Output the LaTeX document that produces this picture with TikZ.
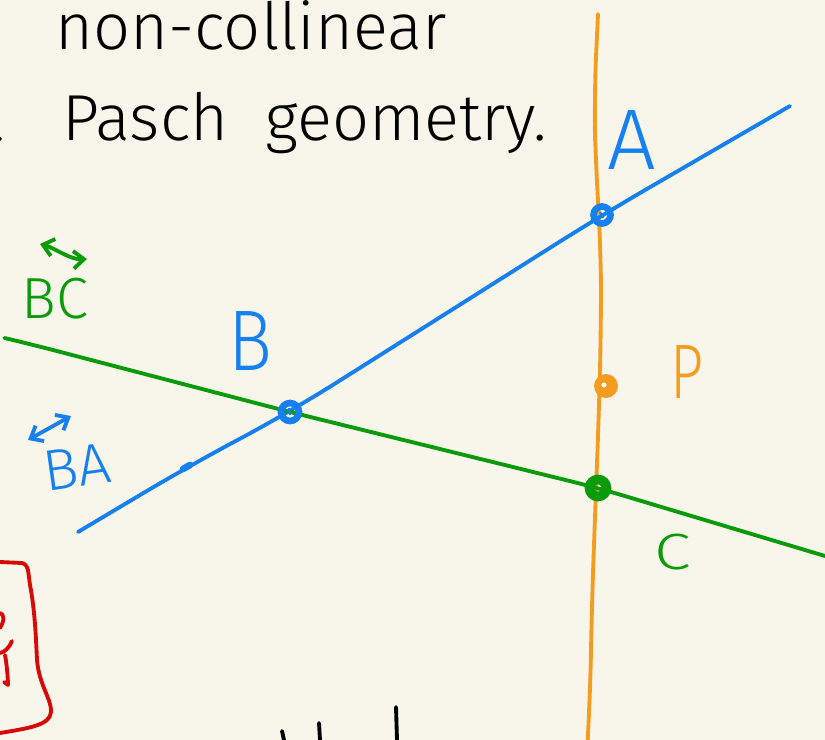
\documentclass[tikz,border=0pt]{standalone}
\usepackage{fontspec}
\setmainfont{Fira Sans Light}
\usetikzlibrary{arrows.meta,calc}
\definecolor{bg}{RGB}{248,246,234}
\definecolor{myblue}{RGB}{22,128,240}
\definecolor{mygreen}{RGB}{10,155,10}
\definecolor{myorange}{RGB}{244,156,32}
\definecolor{myred}{RGB}{215,10,10}
\tikzset{
  pen/.style={line width=2.2pt, line cap=round, line join=round},
  thickpen/.style={line width=3.8pt, line cap=round, line join=round},
  lab/.style={inner sep=0pt, font=\fontsize{49}{50}\selectfont},
  midlab/.style={inner sep=0pt, font=\fontsize{33}{36}\selectfont},
  txt/.style={inner sep=0pt, font=\fontsize{37}{40}\selectfont, anchor=base west},
  barb/.style={{Straight Barb[length=6pt,width=10pt]}-{Straight Barb[length=6pt,width=10pt]}},
}
\begin{document}
\begin{tikzpicture}[x=0.02cm,y=-0.02cm]
\fill[bg] (0,0) rectangle (825,740);
\clip (0,0) rectangle (825,740);

% points and line ends
\coordinate (A) at (602,215);
\coordinate (B) at (290,412);
\coordinate (C) at (598,488);
\coordinate (P) at (606,386);
\coordinate (bl1) at (78,532);
\coordinate (bk) at (187,467);
\coordinate (bl2) at (790,106);
\coordinate (gl1) at (13,340);
\coordinate (gl2) at (825,556);
\coordinate (ot) at (598,14);
\coordinate (ob) at (588,735);

% top text
\node[txt, anchor=base east] (t0) at (3,50) {three};
\node[txt] (t1) at (55,50) {non-collinear};
\node[txt, anchor=base east] (t2) at (7,140) {in a};
\node[txt] (t3) at (62,140) {Pasch};
\node[txt] (t4) at (265,140) {geometry.};

% orange line
\draw[pen, myorange, rounded corners=25] (ot) -- (594,100) -- (596,170) -- (601,250) -- (601,330) -- (599,410) -- (596,490) -- (592,600) -- (590,700) -- (ob);

% blue line
\draw[pen, myblue, rounded corners=30] (bl1) -- (bk) -- (B) -- (A) -- (bl2);
\draw[thickpen, myblue] (183,469) -- (190,465);

% green line
\draw[pen, mygreen, rounded corners=15] (gl1) -- (30,344) -- (B) -- (C) -- (gl2);

% point marks
\draw[thickpen, myblue] (A) circle (8.5);
\draw[myblue, line width=1.2pt] ($(A)+(-2,-3)$) -- ($(A)+(1,3)$);
\draw[thickpen, myblue] (B) circle (9);
\draw[myblue, line width=1.2pt] ($(B)+(-1,-4)$) -- ($(B)+(0,3)$);
\draw[mygreen, line width=5.5pt] (C) circle (8.5);
\fill[myorange] (P) circle (12);
\fill[white] ($(P)+(-2,-1)$) circle (2.5);

% labels
\node[lab, myblue] (labA) at (632,140) {A};
\node[lab, myblue, xscale=0.85] (labB) at (250,341) {B};
\node[lab, myorange, font=\fontsize{44}{46}\selectfont, xscale=0.75] (labP) at (687,372) {P};
\node[midlab, mygreen, font=\fontsize{29}{30}\selectfont, xscale=1.3] (labC) at (673,552) {C};
\node[midlab, mygreen] (labBC) at (55,299) {BC};
\node[midlab, myblue, rotate=8] (labBA) at (77,467) {BA};

% arrows over BC and BA
\coordinate (bcL) at (40,244);
\coordinate (bcR) at (87,259);
\draw[pen, mygreen, barb] (bcL) .. controls (55,248) and (70,260) .. (bcR);
\coordinate (baL) at (28,440);
\coordinate (baR) at (71,416);
\draw[pen, myblue, barb] (baL) -- (baR);

% red box and fragment
\draw[pen, myred] (0,562) -- (22,563) .. controls (29,565) and (28,572) .. (30,585)
  .. controls (35,610) and (36,640) .. (37,660)
  .. controls (39,685) and (52,700) .. (51,712)
  .. controls (50,725) and (30,728) .. (0,733);
\draw[pen, myred] (0,613) .. controls (4,614) and (5,620) .. (0,628);
\draw[pen, myred] (12,641) .. controls (9,648) and (5,652) .. (0,653);
\draw[pen, myred] (5,655) .. controls (7,665) and (8,680) .. (8,685) -- (4,682);

% bottom fragments
\draw[pen, black] (282,731) -- (284,740);
\draw[pen, black] (319,723) -- (320,740);
\draw[pen, black] (396,707) -- (397,740);
\end{tikzpicture}
\end{document}
